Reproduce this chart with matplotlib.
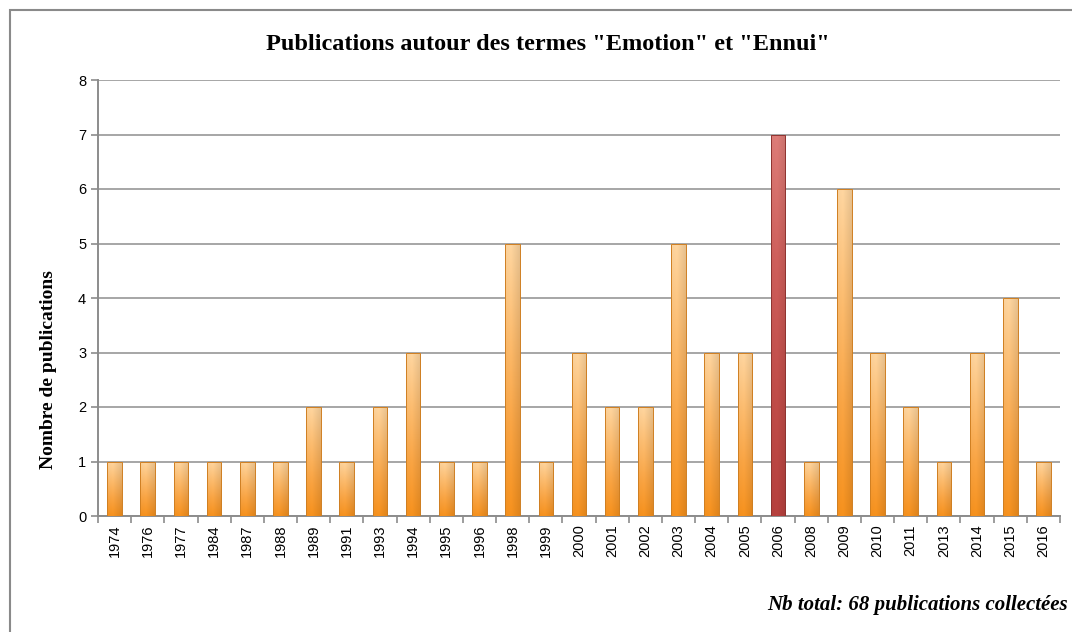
import numpy as np
import matplotlib
matplotlib.use("Agg")
import matplotlib.pyplot as plt
from matplotlib.colors import LinearSegmentedColormap
from matplotlib.patches import Rectangle

# -----------------------------
# Data
# -----------------------------
years = ["1974", "1976", "1977", "1984", "1987", "1988", "1989", "1991", "1993",
         "1994", "1995", "1996", "1998", "1999", "2000", "2001", "2002", "2003",
         "2004", "2005", "2006", "2008", "2009", "2010", "2011", "2013", "2014",
         "2015", "2016"]
counts = [1, 1, 1, 1, 1, 1, 2, 1, 2,
          3, 1, 1, 5, 1, 3, 2, 2, 5,
          3, 3, 7, 1, 6, 3, 2, 1, 3,
          4, 1]
highlight = "2006"

title = 'Publications autour des termes "Emotion" et "Ennui"'
ylabel = "Nombre de publications"
footnote = "Nb total: 68 publications collectées"

# -----------------------------
# Figure
# -----------------------------
fig = plt.figure(figsize=(10.72, 6.32), dpi=100)
fig.patch.set_facecolor("white")

# outer frame (cut by the right / bottom edge like the screenshot)
fig.patches.append(Rectangle((10 / 1072, -0.05), 1.2, 1 - 10 / 632 + 0.05,
                             transform=fig.transFigure, fill=False,
                             edgecolor="#8a8a8a", linewidth=1.5))

ax = fig.add_axes([98 / 1072, 1 - 516 / 632, (1060 - 98) / 1072, (516 - 80) / 632])

orange = LinearSegmentedColormap.from_list("orange", ["#f7921e", "#faa544", "#fdbd70", "#ffd6a0"])
red = LinearSegmentedColormap.from_list("red", ["#b7413e", "#c24e4a", "#cf5f5b", "#de7d78"])

x = np.arange(len(years))
width = 0.44
bars = ax.bar(x, counts, width=width, color="none", edgecolor="none", zorder=3)

grad = np.linspace(0, 1, 100).reshape(-1, 1)
# horizontal shading: a little darker towards the right edge
shade = np.concatenate([np.linspace(0.98, 1.0, 40), np.linspace(1.0, 0.9, 60)])
for b, yr in zip(bars, years):
    cmap = red if yr == highlight else orange
    rgba = cmap(np.repeat(grad, 100, axis=1))
    rgba[..., :3] *= shade[None, :, None]
    x0 = b.get_x()
    h = b.get_height()
    im = ax.imshow(rgba, extent=(x0, x0 + b.get_width(), 0, h), origin="lower",
                   aspect="auto", zorder=3)
    im.set_clip_path(b)
    edge = "#8e3430" if yr == highlight else "#cf7f22"
    ax.add_patch(Rectangle((x0, 0), b.get_width(), h, fill=False,
                           edgecolor=edge, linewidth=0.7, zorder=4))

ax.set_xlim(-0.5, len(years) - 0.5)
ax.set_ylim(0, 8)
ax.set_yticks(range(0, 9))
ax.yaxis.grid(True, color="#a6a6a6", linewidth=1.4, zorder=0)
ax.set_axisbelow(True)

ax.set_xticks(x)
ax.set_xticklabels(years, rotation=90, fontsize=10.5, family="Liberation Sans")
ax.tick_params(axis="x", length=0, pad=6)
ax.set_xticks(np.arange(-0.5, len(years)), minor=True)
ax.tick_params(axis="x", which="minor", length=5, color="#8c8c8c", width=1.2)
ax.tick_params(axis="y", length=5, color="#8c8c8c", width=1.2, labelsize=10.5)
for lab in ax.get_yticklabels():
    lab.set_family("Liberation Sans")

for s in ["top", "right"]:
    ax.spines[s].set_visible(False)
for s in ["left", "bottom"]:
    ax.spines[s].set_color("#8c8c8c")
    ax.spines[s].set_linewidth(1.4)

fig.text(548 / 1072, 1 - 45 / 632, title, ha="center", va="center",
         fontsize=17.5, fontweight="bold", family="Liberation Serif")
fig.text(49 / 1072, 1 - 370 / 632, ylabel, ha="center", va="center", rotation=90,
         fontsize=14, fontweight="bold", family="Liberation Serif")
fig.text(1068 / 1072, 1 - 605 / 632, footnote, ha="right", va="center",
         fontsize=15, fontweight="bold", fontstyle="italic", family="Liberation Serif")

fig.savefig("out.png", dpi=100)
